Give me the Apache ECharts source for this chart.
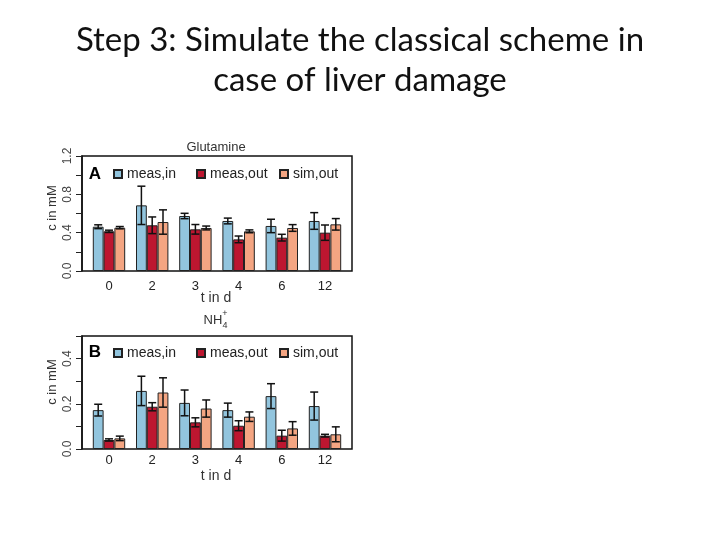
<!DOCTYPE html>
<html><head><meta charset="utf-8">
<script src="https://cdn.jsdelivr.net/npm/echarts@6/dist/echarts.min.js"></script>
<style>html,body{margin:0;padding:0;background:#fff}#c{width:720px;height:540px}</style>
</head><body><div id="c"></div>
<script>
const categories = ['0', '2', '3', '4', '6', '12'];
const seriesNames = ['meas,in', 'meas,out', 'sim,out'];

const glnMeasIn = [0.462, 0.685, 0.574, 0.522, 0.470, 0.522];
const glnMeasInErr = [0.020, 0.200, 0.028, 0.030, 0.070, 0.087];
const glnMeasOut = [0.414, 0.477, 0.435, 0.330, 0.348, 0.400];
const glnMeasOutErr = [0.012, 0.087, 0.050, 0.035, 0.035, 0.080];
const glnSimOut = [0.452, 0.511, 0.449, 0.414, 0.449, 0.487];
const glnSimOutErr = [0.012, 0.127, 0.020, 0.015, 0.035, 0.060];

const nhMeasIn = [0.172, 0.257, 0.204, 0.172, 0.234, 0.190];
const nhMeasInErr = [0.026, 0.065, 0.057, 0.031, 0.055, 0.062];
const nhMeasOut = [0.040, 0.187, 0.118, 0.103, 0.059, 0.059];
const nhMeasOutErr = [0.005, 0.018, 0.020, 0.022, 0.024, 0.006];
const nhSimOut = [0.047, 0.250, 0.179, 0.143, 0.091, 0.065];
const nhSimOutErr = [0.010, 0.065, 0.038, 0.021, 0.030, 0.033];

const yTicksA = [0, 0.4, 0.8, 1.2];
const yTicksB = [0, 0.2, 0.4];

const colors = ['#92c5de', '#bd1630', '#f4a582'];
const FONT = 'Liberation Sans';

const chart = echarts.init(document.getElementById('c'), null, {renderer: 'canvas'});

const panels = [
  {top: 156, height: 115, max: 1.2, interval: 0.2, ticks: yTicksA, labelMargin: 9,
   vals: [glnMeasIn, glnMeasOut, glnSimOut], errs: [glnMeasInErr, glnMeasOutErr, glnSimOutErr]},
  {top: 336, height: 113, max: 0.5, interval: 0.1, ticks: yTicksB, labelMargin: 5,
   vals: [nhMeasIn, nhMeasOut, nhSimOut], errs: [nhMeasInErr, nhMeasOutErr, nhSimOutErr]}
];
const frameLeft = 82, frameWidth = 270;
const unit = frameWidth / 25;

const grid = [], xAxis = [], yAxis = [], series = [], legend = [];
panels.forEach((p, pi) => {
  grid.push({left: frameLeft, top: p.top, width: frameWidth, height: p.height,
    show: true, borderColor: '#111', borderWidth: 1.5, backgroundColor: 'transparent'});
  xAxis.push({gridIndex: 2 * pi, type: 'value', min: 0, max: 1, show: false});
  yAxis.push({gridIndex: 2 * pi, type: 'value', min: 0, max: p.max, interval: p.interval,
    axisLine: {show: true, lineStyle: {color: '#111', width: 1.5}},
    axisTick: {show: true, length: 6, lineStyle: {color: '#222'}},
    splitLine: {show: false},
    axisLabel: {rotate: 90, margin: 8, color: '#444', fontFamily: FONT, fontSize: 12,
      formatter: v => p.ticks.some(t => Math.abs(t - v) < 1e-9) ? v.toFixed(1) : ''}});
  grid.push({left: frameLeft + unit / 2, top: p.top, width: frameWidth - unit, height: p.height});
  xAxis.push({gridIndex: 2 * pi + 1, type: 'category', data: categories,
    axisLine: {show: false}, axisTick: {show: false},
    axisLabel: {color: '#222', fontFamily: FONT, fontSize: 13, margin: p.labelMargin}});
  yAxis.push({gridIndex: 2 * pi + 1, type: 'value', min: 0, max: p.max, show: false});

  seriesNames.forEach((nm, si) => {
    series.push({name: nm, type: 'bar', xAxisIndex: 2 * pi + 1, yAxisIndex: 2 * pi + 1,
      data: p.vals[si], barWidth: unit, barGap: '0%',
      itemStyle: {color: colors[si], borderColor: '#222', borderWidth: 1}, z: 2});
  });
  const errData = [];
  seriesNames.forEach((nm, si) => {
    categories.forEach((c, ci) => errData.push([ci, p.vals[si][ci], p.errs[si][ci], si]));
  });
  series.push({type: 'custom', xAxisIndex: 2 * pi + 1, yAxisIndex: 2 * pi + 1, z: 5,
    data: errData, silent: true,
    renderItem: (params, api) => {
      const ci = api.value(0), v = api.value(1), e = api.value(2), si = api.value(3);
      const band = api.size([1, 0])[0];
      const bw = band / 4;
      const cx = api.coord([ci, v])[0] + (si - 1) * bw;
      const yHi = api.coord([ci, v + e])[1];
      const yLo = api.coord([ci, v - e])[1];
      const hw = 4;
      const st = {stroke: '#111', lineWidth: 1.5};
      return {type: 'group', children: [
        {type: 'line', shape: {x1: cx, y1: yHi, x2: cx, y2: yLo}, style: st},
        {type: 'line', shape: {x1: cx - hw, y1: yHi, x2: cx + hw, y2: yHi}, style: st},
        {type: 'line', shape: {x1: cx - hw, y1: yLo, x2: cx + hw, y2: yLo}, style: st}
      ]};
    }});

  const legTop = pi === 0 ? 167 : 346;
  const lefts = [113, 196, 279];
  seriesNames.forEach((nm, si) => {
    legend.push({data: [nm], left: lefts[si], top: legTop, icon: 'rect', padding: 0,
      itemWidth: 8, itemHeight: 8, selectedMode: false,
      textStyle: {color: '#222', fontFamily: FONT, fontSize: 14}});
  });
});

function txt(x, y, text, font, opts) {
  return Object.assign({type: 'text', x: x, y: y, silent: true,
    style: {text: text, fill: '#333', font: font, align: 'center', verticalAlign: 'middle'}},
    opts || {});
}
const F = s => s + 'px "' + FONT + '"';
const tStyle = t => ({style: {text: t, fill: '#111', font: '33px Lato', align: 'center', verticalAlign: 'middle'}});

const graphic = [
  txt(360, 40, '', '', tStyle('Step 3: Simulate the classical scheme in')),
  txt(360, 80, '', '', tStyle('case of liver damage')),
  txt(216, 147, 'Glutamine', F(13)),
  txt(95, 174, 'A', 'bold ' + F(17), {style: {text: 'A', fill: '#000', font: 'bold ' + F(17), align: 'center', verticalAlign: 'middle'}}),
  txt(216, 298, 't in d', F(14)),
  txt(52, 208, 'c in mM', F(13), {rotation: Math.PI / 2}),
  txt(213, 320, 'NH', F(13)),
  txt(225, 314, '+', F(9)),
  txt(225, 326, '4', F(9)),
  txt(95, 352, 'B', 'bold ' + F(17), {style: {text: 'B', fill: '#000', font: 'bold ' + F(17), align: 'center', verticalAlign: 'middle'}}),
  txt(216, 476, 't in d', F(14)),
  txt(52, 382, 'c in mM', F(13), {rotation: Math.PI / 2})
];

chart.setOption({
  animation: false,
  backgroundColor: '#fff',
  grid: grid, xAxis: xAxis, yAxis: yAxis, series: series, legend: legend, graphic: graphic
});
</script></body></html>
